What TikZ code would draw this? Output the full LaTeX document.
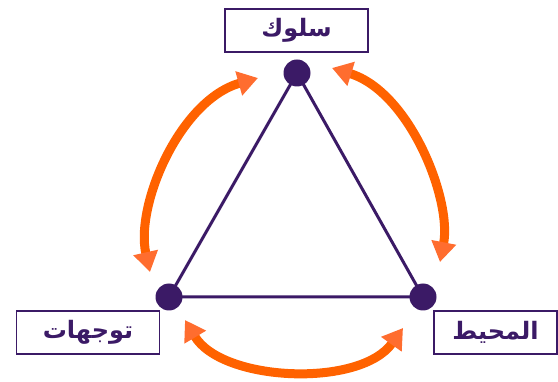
\documentclass[tikz,border=0pt]{standalone}
\usepackage{fontspec}
\usetikzlibrary{arrows.meta}
\TeXXeTstate=1
\newfontfamily\arabicfont[Script=Arabic]{DejaVu Sans}
\definecolor{deepviolet}{HTML}{3B1A66}
\definecolor{hotorange}{HTML}{FF6200}
\definecolor{tiporange}{HTML}{FF6D2F}
\begin{document}
\begin{tikzpicture}[x=1pt,y=-1pt,
  lbl/.style={draw=deepviolet, line width=1.3pt, minimum width=143pt, minimum height=43pt,
    inner sep=0pt, text=deepviolet, font=\arabicfont\bfseries\fontsize{24}{28}\selectfont},
  dot/.style={circle, fill=deepviolet, minimum size=27pt, inner sep=0pt},
  swing/.style={hotorange, line width=9pt, {Triangle[length=20pt,width=24pt,fill=tiporange,color=tiporange]}-{Triangle[length=20pt,width=24pt,fill=tiporange,color=tiporange]}}]
 \useasboundingbox (0,0) rectangle (558,382);
 % labels
 \node[lbl] (behav) at (296.5,30.5) {\beginR سلوك\endR};
 \node[lbl] (attit) at (88,332.5) {\beginR توجهات\endR};
 \node[lbl, minimum width=123pt] (envir) at (495.5,332.5) {\beginR المحيط\endR};
 % corners
 \node[dot] (top) at (297,73) {};
 \node[dot] (lft) at (169,297) {};
 \node[dot] (rgt) at (423,297) {};
 \draw[deepviolet, line width=3pt, line join=round] (top.center) -- (lft.center) -- (rgt.center) -- cycle;
 % arrows
 \coordinate (a1) at (258,78);
 \coordinate (a2) at (150,272);
 \coordinate (b1) at (332,68);
 \coordinate (b2) at (440,262);
 \coordinate (c1) at (185,320);
 \coordinate (c2) at (403,328);
 \draw[swing] (a1) .. controls (180,100) and (135,205) .. (a2);
 \draw[swing] (b1) .. controls (410,92) and (452,200) .. (b2);
 \draw[swing] (c1) .. controls (222,382) and (360,388) .. (c2);
\end{tikzpicture}
\end{document}
